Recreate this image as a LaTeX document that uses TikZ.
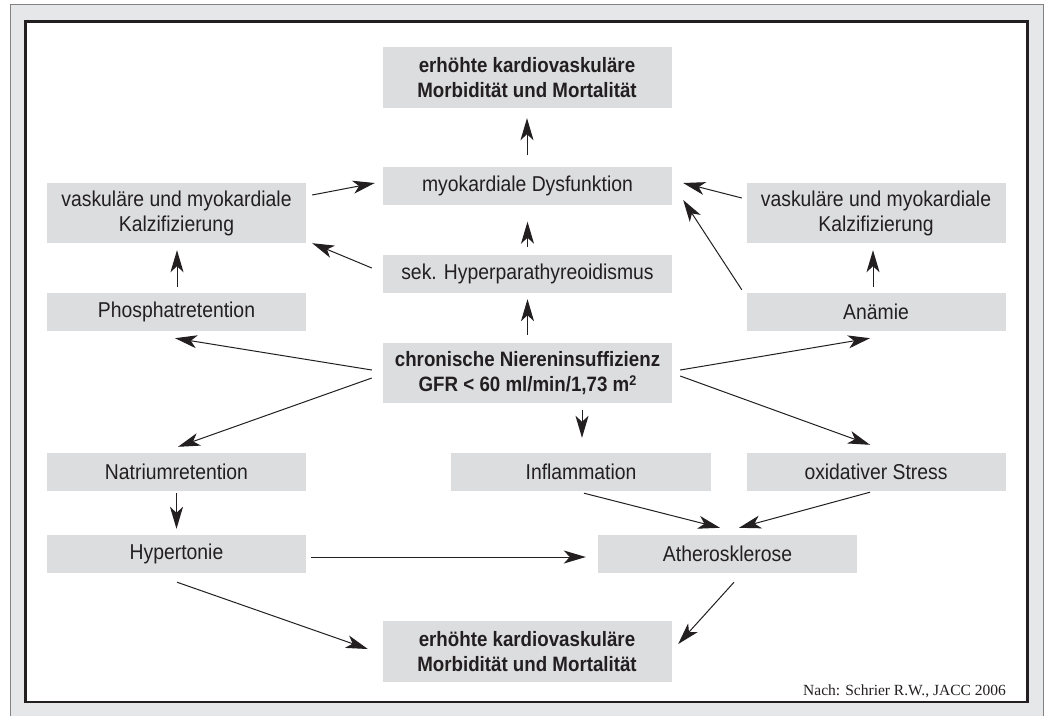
\documentclass[tikz,border=0pt]{standalone}
\usepackage{fontspec}
\setmainfont{Liberation Sans}[FakeStretch=0.9]
\newfontfamily\citefont{Liberation Serif}
\usetikzlibrary{arrows.meta,calc}
\definecolor{bgc}{RGB}{230,231,232}
\definecolor{bgline}{RGB}{130,130,130}
\definecolor{boxc}{RGB}{220,221,222}
\definecolor{inkc}{RGB}{35,31,32}
\tikzset{
  box/.style={fill=boxc, draw=none, inner sep=0pt, align=center, text=inkc,
    font=\fontsize{21.5}{25}\selectfont},
  wbox/.style={box, minimum width=259pt, minimum height=38pt},
  cbox/.style={box, minimum width=289pt, minimum height=38pt},
  cbox2/.style={box, minimum width=289pt, minimum height=61pt},
  wbox2/.style={box, minimum width=259pt, minimum height=60pt},
  bbox/.style={cbox2, font=\fontsize{20.8}{25}\selectfont\bfseries},
  arr/.style={draw=inkc, line width=1pt, -{Stealth[length=22pt,width=13pt,inset=6pt]}},
}
\begin{document}
\begin{tikzpicture}[x=1pt,y=-1pt]
\useasboundingbox (0,0) rectangle (1048,715);
\fill[white] (0,0) rectangle (1048,715);
\draw[fill=bgc, draw=bgline, line width=1pt] (10,4.5) rectangle (1043,725);
\draw[fill=white, draw=inkc, line width=2.5pt] (25.5,21.5) rectangle (1027.5,702);

\node[bbox] (top) at (527,77.5) {erhöhte kardiovaskuläre\\Morbidität und Mortalität};
\node[cbox] (myok) at (527.5,185.5) {myokardiale Dysfunktion};
\node[cbox] (sek) at (527.5,274) {sek. Hyperparathyreoidismus};
\node[bbox, minimum height=60pt] (chron) at (527.5,373) {chronische Niereninsuffizienz\\GFR < 60 ml/min/1,73 m\raisebox{0.5ex}{\fontsize{14}{14}\selectfont 2}};
\node[wbox2] (kl) at (176.5,213) {vaskuläre und myokardiale\\Kalzifizierung};
\node[wbox] (phos) at (176.5,312) {Phosphatretention};
\node[wbox2] (kr) at (876,213) {vaskuläre und myokardiale\\Kalzifizierung};
\node[wbox] (anae) at (876,312) {Anämie};
\node[wbox] (nat) at (176.5,472) {Natriumretention};
\node[wbox, minimum width=260pt] (infl) at (581,472) {Inflammation};
\node[wbox] (oxid) at (876,472) {oxidativer Stress};
\node[wbox] (hyp) at (176.5,554) {Hypertonie};
\node[wbox] (ath) at (727.5,554) {Atherosklerose};
\node[bbox] (bot) at (527,651.5) {erhöhte kardiovaskuläre\\Morbidität und Mortalität};
\node[anchor=base east, inner sep=0pt, text=inkc, font=\citefont\fontsize{15.5}{18}\selectfont] (cite) at (1006,695) {Nach: Schrier R.W., JACC 2006};

% vertical arrows
\draw[arr] ($(myok.north)+(-0.5,-11)$) -- ($(top.south)+(0,10)$);
\draw[arr] ($(sek.north)+(0,-8)$) -- ($(myok.south)+(0,17)$);
\draw[arr] ($(chron.north)+(0,-8)$) -- ($(sek.south)+(0,6)$);
\draw[arr] ($(chron.south)+(54.5,7)$) -- ($(infl.north)+(1,-15)$);
\draw[arr] ($(phos.north)+(0.5,-6)$) -- ($(kl.south)+(0.5,7)$);
\draw[arr] ($(anae.north)+(-3,-6)$) -- ($(kr.south)+(-3,7)$);
\draw[arr] ($(nat.south)+(0,2)$) -- ($(hyp.north)+(0,-6)$);
% upper slanted arrows
\draw[arr] ($(kl.east)+(6,-18)$) -- ($(myok.west)+(-8,-2.5)$);
\draw[arr] ($(sek.west)+(-11,-6)$) -- ($(kl.south east)+(6,0)$);
\draw[arr] ($(kr.west)+(-4.5,-15)$) -- ($(myok.east)+(11,-2.5)$);
\draw[arr] ($(anae.north west)+(-4.5,-3)$) -- ($(myok.east)+(11,14.5)$);
% from chronische
\draw[arr] ($(chron.west)+(-11,-3)$) -- ($(phos.south)+(-1.5,7)$);
\draw[arr] ($(chron.east)+(8,-3)$) -- ($(anae.south)+(-6,7)$);
\draw[arr] ($(chron.west)+(-11,5)$) -- ($(nat.north)+(1.5,-6)$);
\draw[arr] ($(chron.east)+(8,3)$) -- ($(oxid.north)+(-6,-8)$);
% lower arrows
\draw[arr] ($(infl.south)+(3,2)$) -- ($(ath.north)+(-7.5,-7)$);
\draw[arr] ($(oxid.south)+(-6,1)$) -- ($(ath.north)+(11.5,-7)$);
\draw[arr] ($(hyp.east)+(5,3)$) -- ($(ath.west)+(-12,3)$);
\draw[arr] ($(hyp.south)+(0.5,9)$) -- ($(bot.west)+(-14.5,-2.5)$);
\draw[arr] ($(ath.south)+(6.5,9)$) -- ($(bot.east)+(6.5,-7.5)$);
\end{tikzpicture}
\end{document}
